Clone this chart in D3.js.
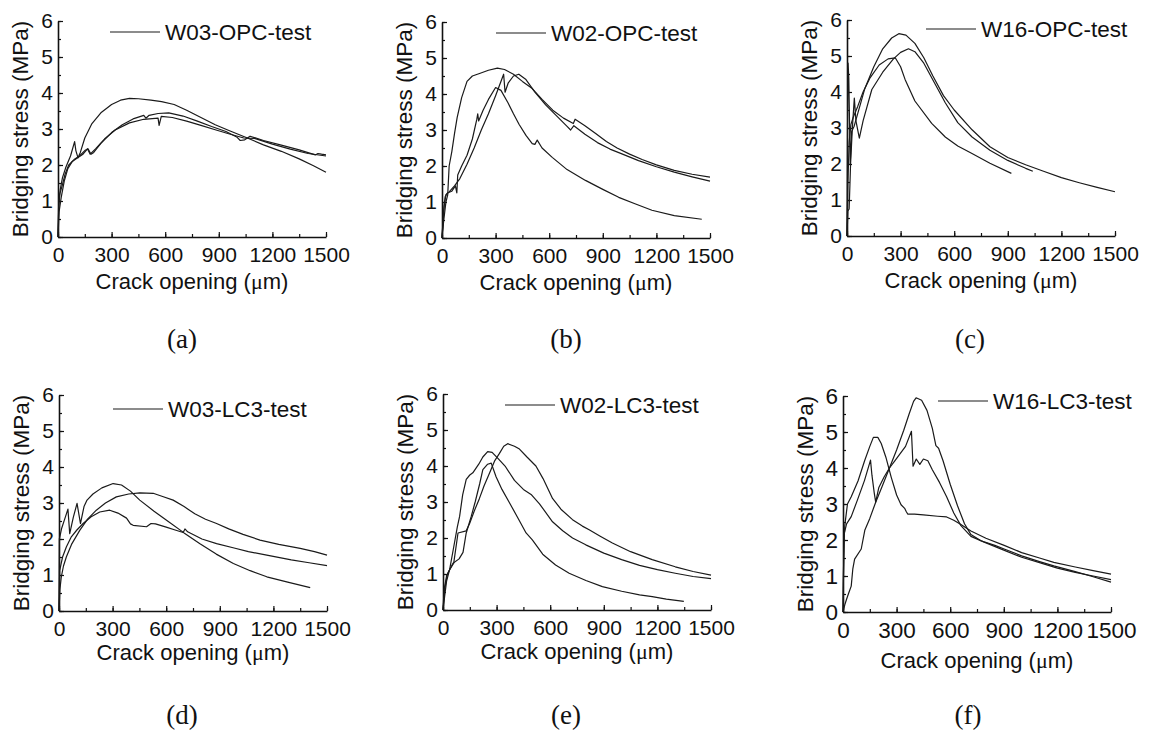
<!DOCTYPE html>
<html>
<head>
<meta charset="utf-8">
<script src="https://cdn.jsdelivr.net/npm/d3@7"></script>
<style>
  body { margin: 0; background: #fff; }
</style>
</head>
<body>
<div id="root"></div>
<script>
// Bridging stress (MPa) vs crack opening (um), three specimens per panel

// (a) W03-OPC
const w03Opc1 = [[0,0],[4,0.8],[12,1.3],[25,1.65],[45,1.95],[70,2.25],[93,2.65],[100,2.4],[112,2.2],[125,2.35],[150,2.75],[190,3.15],[240,3.45],[300,3.68],[350,3.8],[400,3.85],[450,3.84],[520,3.8],[580,3.76],[650,3.68],[720,3.52],[800,3.32],[880,3.12],[960,2.95],[1050,2.77],[1150,2.56],[1250,2.38],[1350,2.17],[1430,1.98],[1500,1.8]];
const w03Opc2 = [[0,0],[4,1.0],[10,1.2],[22,1.4],[40,1.75],[60,2.0],[90,2.15],[120,2.25],[150,2.4],[168,2.45],[185,2.3],[200,2.35],[240,2.6],[300,2.9],[360,3.12],[420,3.28],[480,3.38],[492,3.3],[510,3.38],[560,3.43],[620,3.45],[700,3.36],[780,3.22],[860,3.07],[940,2.93],[1000,2.78],[1020,2.68],[1045,2.7],[1075,2.8],[1150,2.68],[1250,2.55],[1350,2.42],[1440,2.28],[1455,2.32],[1475,2.3],[1500,2.28]];
const w03Opc3 = [[0,0],[6,0.7],[18,1.1],[35,1.55],[55,1.9],[80,2.1],[110,2.2],[140,2.3],[165,2.45],[180,2.3],[210,2.45],[260,2.72],[320,2.97],[400,3.17],[480,3.27],[560,3.3],[566,3.1],[578,3.35],[640,3.32],[720,3.22],[800,3.1],[880,2.98],[960,2.86],[1040,2.75],[1100,2.74],[1200,2.58],[1300,2.44],[1400,2.32],[1500,2.25]];

// (b) W02-OPC
const w02Opc1 = [[0,0],[10,0.5],[22,1.0],[32,1.2],[40,2.0],[55,2.4],[70,2.9],[85,3.35],[110,3.9],[140,4.35],[170,4.5],[210,4.57],[260,4.66],[310,4.72],[350,4.68],[400,4.55],[450,4.35],[505,4.15],[560,3.85],[620,3.55],[680,3.33],[735,3.18],[745,3.3],[800,3.12],[860,2.9],[920,2.68],[980,2.5],[1050,2.33],[1120,2.18],[1200,2.03],[1300,1.88],[1400,1.77],[1500,1.69]];
const w02Opc2 = [[0,0],[12,0.9],[22,1.2],[40,1.28],[70,1.45],[100,1.65],[140,2.05],[180,2.5],[220,3.0],[260,3.45],[300,3.95],[345,4.55],[353,4.05],[370,4.3],[400,4.5],[430,4.55],[470,4.4],[520,4.05],[580,3.7],[640,3.4],[700,3.1],[720,3.0],[738,3.12],[800,2.88],[870,2.65],[940,2.47],[1000,2.35],[1100,2.15],[1200,1.98],[1300,1.83],[1400,1.7],[1500,1.58]];
const w02Opc3 = [[0,0],[8,0.7],[18,1.15],[30,1.25],[55,1.3],[75,1.45],[83,1.25],[88,1.75],[110,2.0],[140,2.3],[170,2.75],[195,3.3],[200,3.45],[205,3.25],[230,3.55],[260,3.85],[300,4.18],[330,4.1],[370,3.75],[400,3.45],[431,3.16],[470,2.85],[505,2.62],[520,2.6],[533,2.72],[560,2.5],[617,2.24],[700,1.9],[803,1.6],[900,1.35],[989,1.13],[1080,0.95],[1175,0.77],[1300,0.62],[1454,0.52]];

// (c) W16-OPC
const w16Opc1 = [[0,0],[3,3.0],[6,4.8],[10,4.4],[18,2.0],[26,2.9],[40,3.05],[60,3.4],[100,4.1],[150,4.7],[200,5.2],[250,5.5],[290,5.62],[330,5.58],[380,5.35],[430,4.95],[480,4.45],[540,3.9],[600,3.5],[700,2.95],[800,2.48],[900,2.18],[1000,1.98],[1100,1.8],[1200,1.62],[1300,1.48],[1400,1.35],[1500,1.23]];
const w16Opc2 = [[0,0],[5,0.7],[12,0.75],[20,2.0],[30,3.0],[41,3.83],[50,3.2],[69,2.72],[90,3.2],[139,4.07],[200,4.55],[260,4.92],[300,5.1],[344,5.2],[380,5.12],[430,4.8],[490,4.25],[550,3.7],[620,3.15],[700,2.75],[800,2.38],[900,2.1],[1000,1.88],[1040,1.8]];
const w16Opc3 = [[0,0],[5,1.5],[12,2.6],[22,3.1],[35,3.3],[60,3.6],[90,4.0],[130,4.4],[180,4.75],[230,4.92],[270,4.95],[300,4.7],[325,4.35],[380,3.75],[474,3.13],[550,2.75],[620,2.5],[697,2.3],[800,2.02],[920,1.74]];

// (d) W03-LC3
const w03Lc31 = [[0,0],[2,2.0],[15,2.3],[35,2.6],[50,2.83],[60,2.15],[80,2.6],[101,2.99],[120,2.43],[140,2.9],[157,3.08],[190,3.25],[240,3.42],[303,3.54],[350,3.5],[400,3.33],[452,3.08],[530,2.78],[602,2.52],[700,2.17],[789,1.87],[880,1.58],[976,1.32],[1070,1.12],[1163,0.95],[1280,0.8],[1406,0.65]];
const w03Lc32 = [[0,0],[5,0.6],[13,0.95],[25,1.25],[41,1.5],[70,1.85],[116,2.24],[160,2.55],[209,2.8],[260,3.0],[321,3.17],[390,3.25],[452,3.28],[527,3.27],[580,3.18],[639,3.08],[700,2.9],[760,2.7],[820,2.55],[882,2.43],[950,2.28],[1030,2.13],[1125,1.97],[1230,1.85],[1350,1.74],[1430,1.65],[1500,1.55]];
const w03Lc33 = [[0,0],[4,1.13],[20,1.5],[41,1.78],[69,2.06],[100,2.25],[135,2.43],[180,2.62],[228,2.75],[284,2.8],[330,2.72],[378,2.58],[400,2.42],[415,2.38],[490,2.34],[515,2.43],[540,2.42],[600,2.33],[650,2.25],[695,2.18],[705,2.28],[720,2.2],[800,2.0],[882,1.87],[980,1.75],[1060,1.65],[1163,1.55],[1300,1.42],[1400,1.34],[1500,1.26]];

// (e) W02-LC3
const w02Lc31 = [[0,0],[9,0.37],[20,0.8],[37,1.12],[60,1.75],[80,2.3],[93,2.6],[110,3.2],[130,3.63],[150,3.75],[167,3.81],[200,4.05],[223,4.25],[250,4.4],[275,4.38],[310,4.2],[350,3.98],[400,3.6],[450,3.35],[493,3.21],[540,2.95],[613,2.45],[670,2.2],[725,2.0],[799,1.81],[900,1.58],[1000,1.4],[1100,1.24],[1200,1.12],[1300,1.02],[1400,0.93],[1500,0.87]];
const w02Lc32 = [[0,0],[6,0.56],[20,0.95],[37,1.12],[60,1.3],[84,2.14],[130,2.2],[149,2.4],[175,2.75],[204,3.1],[230,3.45],[260,3.8],[290,4.15],[316,4.35],[340,4.55],[362,4.62],[400,4.55],[428,4.47],[470,4.25],[520,4.0],[560,3.65],[613,3.1],[660,2.8],[725,2.51],[780,2.33],[818,2.23],[880,2.05],[948,1.86],[1050,1.62],[1171,1.4],[1300,1.2],[1400,1.07],[1500,0.97]];
const w02Lc33 = [[0,0],[10,0.6],[25,1.0],[56,1.3],[90,1.42],[112,1.6],[130,2.14],[158,2.6],[180,3.0],[205,3.5],[223,3.9],[250,4.05],[270,4.08],[297,3.7],[330,3.35],[372,2.98],[420,2.55],[465,2.14],[500,1.95],[558,1.55],[630,1.25],[706,1.02],[800,0.82],[892,0.65],[1000,0.52],[1100,0.42],[1171,0.37],[1250,0.3],[1348,0.24]];

// (f) W16-LC3
const w16Lc31 = [[0,0],[2,0.9],[6,2.0],[10,2.4],[25,3.0],[46,3.2],[84,3.64],[121,4.2],[150,4.6],[170,4.85],[195,4.85],[214,4.68],[240,4.3],[270,3.74],[300,3.25],[325,2.98],[345,2.88],[353,2.8],[362,2.72],[400,2.72],[450,2.7],[530,2.66],[580,2.64],[620,2.55],[660,2.43],[716,2.25],[800,2.05],[902,1.85],[1000,1.65],[1100,1.5],[1180,1.38],[1300,1.25],[1400,1.15],[1500,1.05]];
const w16Lc32 = [[0,0],[10,0.2],[19,0.34],[30,0.5],[46,0.72],[55,1.2],[65,1.47],[102,1.75],[122,2.27],[150,2.6],[183,3.05],[220,3.5],[260,4.0],[300,4.5],[340,5.05],[370,5.5],[395,5.85],[409,5.95],[440,5.88],[470,5.6],[500,5.1],[520,4.62],[535,4.55],[560,4.2],[600,3.55],[641,2.95],[680,2.45],[716,2.15],[772,1.98],[850,1.85],[902,1.75],[1000,1.56],[1100,1.4],[1180,1.28],[1300,1.12],[1400,0.98],[1500,0.83]];
const w16Lc33 = [[0,0],[4,1.5],[8,2.2],[20,2.45],[46,2.65],[80,3.1],[120,3.65],[154,4.22],[162,3.8],[175,3.3],[183,3.05],[200,3.45],[230,3.75],[260,4.0],[290,4.2],[320,4.4],[350,4.6],[383,5.02],[392,4.05],[410,4.25],[430,4.1],[450,4.25],[475,4.2],[500,3.95],[540,3.6],[580,3.2],[620,2.75],[660,2.4],[716,2.1],[790,1.94],[900,1.72],[1000,1.52],[1100,1.37],[1200,1.22],[1300,1.1],[1400,1.0],[1500,0.9]];

// Legend names and panel letters
const legendNames = ["W03-OPC-test", "W02-OPC-test", "W16-OPC-test", "W03-LC3-test", "W02-LC3-test", "W16-LC3-test"];
const panelLetters = ["(a)", "(b)", "(c)", "(d)", "(e)", "(f)"];
const xTicks = [0, 300, 600, 900, 1200, 1500];
const yTicks = [0, 1, 2, 3, 4, 5, 6];

const seriesByPanel = [
  [w03Opc1, w03Opc2, w03Opc3],
  [w02Opc1, w02Opc2, w02Opc3],
  [w16Opc1, w16Opc2, w16Opc3],
  [w03Lc31, w03Lc32, w03Lc33],
  [w02Lc31, w02Lc32, w02Lc33],
  [w16Lc31, w16Lc32, w16Lc33]
];

// Where each panel's axes sit on the page (origin = x 0 / y 0 corner)
const layout = [
  { x0: 58,  y0: 237, legX: 110, legY: 32,  labelX: 182, labelY: 348, font: 21,   titleGap: 52 },
  { x0: 442, y0: 238, legX: 496, legY: 33,  labelX: 566, labelY: 348, font: 21,   titleGap: 52 },
  { x0: 847, y0: 236, legX: 926, legY: 29,  labelX: 970, labelY: 348, font: 21,   titleGap: 52 },
  { x0: 59,  y0: 611, legX: 113, legY: 409, labelX: 182, labelY: 724, font: 21,   titleGap: 49 },
  { x0: 443, y0: 610, legX: 505, legY: 405, labelX: 566, labelY: 724, font: 21,   titleGap: 49 },
  { x0: 843, y0: 612, legX: 938, legY: 401, labelX: 968, labelY: 724, font: 22.5, titleGap: 56 }
];

const plotW = 268;
const plotH = 216;
const sans = "'Liberation Sans', Arial, sans-serif";

const svg = d3.select("#root")
  .append("svg")
  .attr("width", 1158)
  .attr("height", 731)
  .style("background", "#fff");

layout.forEach((p, i) => {
  const g = svg.append("g").attr("transform", `translate(${p.x0},${p.y0 - plotH})`);

  const x = d3.scaleLinear().domain([0, 1500]).range([0, plotW]);
  const y = d3.scaleLinear().domain([0, 6]).range([plotH, 0]);

  // minor ticks (inward, unlabeled)
  g.append("g")
    .attr("transform", `translate(0,${plotH})`)
    .call(d3.axisBottom(x).tickValues(d3.range(0, 1501, 150)).tickSizeInner(-3).tickSizeOuter(0).tickFormat(""))
    .call(a => a.select(".domain").remove());
  g.append("g")
    .call(d3.axisLeft(y).tickValues(d3.range(0, 6.01, 0.5)).tickSizeInner(-3).tickSizeOuter(0).tickFormat(""))
    .call(a => a.select(".domain").remove());

  // major ticks with labels
  const xAxis = g.append("g")
    .attr("transform", `translate(0,${plotH})`)
    .call(d3.axisBottom(x).tickValues(xTicks).tickSizeInner(-5).tickSizeOuter(0).tickPadding(10).tickFormat(d3.format("d")));
  const yAxis = g.append("g")
    .call(d3.axisLeft(y).tickValues(yTicks).tickSizeInner(-5).tickSizeOuter(0).tickPadding(5).tickFormat(d3.format("d")));

  g.selectAll(".tick line").attr("stroke", "#111").attr("stroke-width", 1.2);
  [xAxis, yAxis].forEach(a => {
    a.select(".domain").attr("stroke", "#111").attr("stroke-width", 1.6);
    a.selectAll("text").attr("font-family", sans).attr("font-size", p.font).attr("fill", "#111");
  });

  // the three specimen curves
  const line = d3.line().x(d => x(d[0])).y(d => y(d[1]));
  g.selectAll("path.curve")
    .data(seriesByPanel[i])
    .join("path")
    .attr("class", "curve")
    .attr("d", line)
    .attr("fill", "none")
    .attr("stroke", "#1a1a1a")
    .attr("stroke-width", 1.2)
    .attr("stroke-linejoin", "round");

  // axis titles
  const xt = g.append("text")
    .attr("x", plotW / 2)
    .attr("y", plotH + p.titleGap)
    .attr("text-anchor", "middle")
    .attr("font-family", sans)
    .attr("font-size", 22)
    .attr("fill", "#111");
  xt.append("tspan").text("Crack opening (");
  xt.append("tspan").attr("font-family", "'Liberation Serif', serif").text("μ");
  xt.append("tspan").text("m)");

  g.append("text")
    .attr("transform", `translate(-30,${plotH / 2}) rotate(-90)`)
    .attr("text-anchor", "middle")
    .attr("font-family", sans)
    .attr("font-size", 22.5)
    .attr("fill", "#111")
    .text("Bridging stress (MPa)");

  // legend
  svg.append("line")
    .attr("x1", p.legX).attr("x2", p.legX + 50)
    .attr("y1", p.legY).attr("y2", p.legY)
    .attr("stroke", "#1a1a1a").attr("stroke-width", 1.2);
  svg.append("text")
    .attr("x", p.legX + 55)
    .attr("y", p.legY)
    .attr("dy", "0.35em")
    .attr("font-family", sans)
    .attr("font-size", 22.5)
    .attr("fill", "#111")
    .text(legendNames[i]);

  // panel letter
  svg.append("text")
    .attr("x", p.labelX)
    .attr("y", p.labelY)
    .attr("text-anchor", "middle")
    .attr("font-family", "'Liberation Serif', 'Times New Roman', serif")
    .attr("font-size", 27)
    .attr("fill", "#111")
    .text(panelLetters[i]);
});
</script>
</body>
</html>
